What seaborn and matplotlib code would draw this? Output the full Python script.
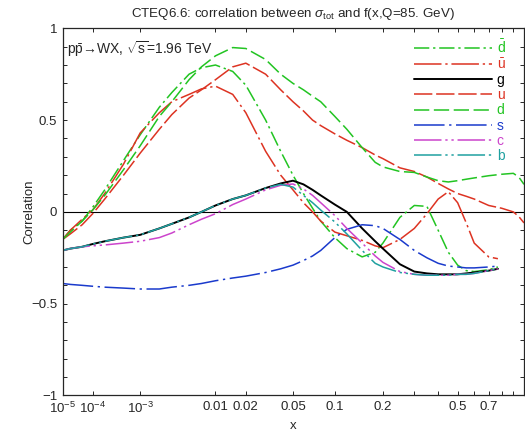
import numpy as np
import pandas as pd
import matplotlib
matplotlib.use("Agg")
import matplotlib.pyplot as plt
import seaborn as sns

x_main = [1e-5, 2e-5, 5e-5, 1e-4, 2e-4, 5e-4, 1e-3, 2e-3, 3e-3, 5e-3, 7e-3,
          0.01, 0.015, 0.02, 0.03, 0.04, 0.05, 0.06, 0.07, 0.08, 0.1, 0.12,
          0.15, 0.18, 0.2, 0.25, 0.3, 0.35, 0.4, 0.45, 0.5, 0.55, 0.6, 0.7, 0.77]
x_long = x_main[:-1] + [0.8, 0.9, 0.95, 1.0]

# correlation values per parton
dbar = [-0.15, -0.10, -0.05, 0.025, 0.12, 0.28, 0.42, 0.57, 0.65, 0.75, 0.785,
        0.80, 0.765, 0.69, 0.50, 0.33, 0.20, 0.10, 0.02, -0.05, -0.14, -0.20,
        -0.245, -0.22, -0.17, -0.03, 0.035, 0.03, -0.10, -0.22, -0.29, -0.32, -0.325, -0.315, -0.30]
ubar = [-0.15, -0.10, -0.04, 0.01, 0.10, 0.26, 0.43, 0.54, 0.60, 0.64, 0.67,
        0.685, 0.64, 0.54, 0.33, 0.20, 0.12, 0.05, 0.0, -0.05, -0.11, -0.13,
        -0.155, -0.185, -0.195, -0.15, -0.09, -0.01, 0.07, 0.11, 0.05, -0.06, -0.17, -0.245, -0.255]
g = [-0.21, -0.20, -0.19, -0.175, -0.16, -0.14, -0.125, -0.09, -0.065, -0.03, 0.0,
     0.035, 0.07, 0.09, 0.13, 0.155, 0.17, 0.15, 0.12, 0.09, 0.04, 0.0,
     -0.09, -0.16, -0.20, -0.285, -0.325, -0.335, -0.34, -0.34, -0.34, -0.335, -0.33, -0.32, -0.31]
u = [-0.15, -0.12, -0.07, -0.01, 0.07, 0.20, 0.32, 0.45, 0.53, 0.62, 0.665,
     0.72, 0.79, 0.81, 0.75, 0.665, 0.60, 0.55, 0.50, 0.47, 0.425, 0.39,
     0.35, 0.31, 0.29, 0.24, 0.22, 0.19, 0.155, 0.125, 0.10, 0.085, 0.07, 0.035,
     0.02, 0.0, -0.025, -0.06]
d = [-0.15, -0.11, -0.05, 0.01, 0.09, 0.23, 0.36, 0.52, 0.60, 0.72, 0.79,
     0.85, 0.895, 0.89, 0.83, 0.75, 0.70, 0.665, 0.63, 0.60, 0.52, 0.45,
     0.35, 0.27, 0.245, 0.22, 0.215, 0.19, 0.17, 0.163, 0.17, 0.178, 0.185, 0.197,
     0.205, 0.21, 0.19, 0.15]
s = [-0.39, -0.395, -0.40, -0.405, -0.41, -0.415, -0.42, -0.42, -0.41, -0.40, -0.39,
     -0.375, -0.36, -0.35, -0.33, -0.31, -0.29, -0.265, -0.24, -0.21, -0.14, -0.095,
     -0.07, -0.075, -0.09, -0.15, -0.21, -0.25, -0.28, -0.295, -0.30, -0.305, -0.305, -0.30, -0.295]
c = [-0.21, -0.20, -0.19, -0.185, -0.18, -0.17, -0.16, -0.14, -0.115, -0.07, -0.04,
     -0.01, 0.04, 0.07, 0.12, 0.145, 0.152, 0.125, 0.09, 0.05, -0.02, -0.09,
     -0.17, -0.24, -0.275, -0.325, -0.34, -0.345, -0.345, -0.345, -0.34, -0.34, -0.335, -0.32, -0.31]
b = [-0.21, -0.20, -0.19, -0.175, -0.16, -0.14, -0.125, -0.09, -0.065, -0.03, 0.0,
     0.035, 0.07, 0.09, 0.13, 0.15, 0.135, 0.09, 0.05, 0.01, -0.055, -0.12,
     -0.21, -0.28, -0.30, -0.33, -0.34, -0.345, -0.345, -0.345, -0.34, -0.34, -0.335, -0.32, -0.31]

labels = [r'$\bar{\mathrm{d}}$', r'$\bar{\mathrm{u}}$', 'g', 'u', 'd', 's', 'c', 'b']
series = [dbar, ubar, g, u, d, s, c, b]
xs = [x_main, x_main, x_main, x_long, x_long, x_main, x_main, x_main]
colors = ['#22c422', '#dd3322', 'black', '#dd3322', '#22c422', '#1a3acc', '#cc44cc', '#1fa0a0']
dashes = [(10, 2.5, 1.5, 2.5), (18, 2.5, 1.5, 2.5), None, (12, 2.5), (10, 3),
          (20, 3, 1.5, 3), (18, 2.5, 1.5, 2.5, 1.5, 2.5), (18, 2.5, 1.5, 2.5, 1.5, 2.5)]

xticks = [1e-5, 1e-4, 1e-3, 0.01, 0.02, 0.05, 0.1, 0.2, 0.5, 0.7]
xticklabels = [r'$10^{-5}$', r'$10^{-4}$', r'$10^{-3}$', '0.01', '0.02', '0.05', '0.1', '0.2', '0.5', '0.7']
xminor = [0.3, 0.4, 0.6, 0.8, 0.9]

sns.set_style("ticks", {"xtick.direction": "in", "ytick.direction": "in"})
plt.rcParams['font.family'] = ['Liberation Sans', 'DejaVu Sans']
plt.rcParams['mathtext.fontset'] = 'custom'
plt.rcParams['mathtext.rm'] = 'Liberation Sans'
plt.rcParams['mathtext.it'] = 'Liberation Sans:italic'
plt.rcParams['mathtext.bf'] = 'Liberation Sans:bold'

fig = plt.figure(figsize=(5.25, 4.32), dpi=100)
ax = fig.add_axes([0.1194, 0.0845, 0.8787, 0.85])

for xv, yv, col, dsh in zip(xs, series, colors, dashes):
    sns.lineplot(x=xv, y=yv, color=col, ax=ax, linewidth=1.4 if dsh is None else 1.1,
                 estimator=None, sort=False)
    if dsh is not None:
        ax.lines[-1].set_dashes(dsh)

handles = list(ax.lines[:8])
ax.axhline(0, color='black', linewidth=0.8, zorder=1)

ax.set_xscale('function', functions=(lambda v: np.power(np.clip(v, 1e-12, None), 0.2),
                                     lambda v: np.power(v, 5)))
ax.set_xlim(1e-5, 1.0)
ax.set_ylim(-1, 1)
ax.set_xticks(xticks)
ax.set_xticklabels(xticklabels)
ax.set_xticks(xminor, minor=True)
ax.set_yticks([-1, -0.5, 0, 0.5, 1])
ax.set_yticklabels(['\u22121', '\u22120.5', '0', '0.5', '1'])
ax.set_yticks(np.arange(-0.9, 1.0, 0.1), minor=True)
ax.tick_params(which='both', direction='in', top=True, right=True, length=3,
               width=0.7, labelsize=9.5, pad=4)
for sp in ax.spines.values():
    sp.set_linewidth(0.9)

ax.set_xlabel('x', fontsize=9.5, labelpad=3)
ax.set_ylabel('Correlation', fontsize=9.5, labelpad=-3)
ax.set_title(r'CTEQ6.6: correlation between $\sigma_{\mathrm{tot}}$ and f(x,Q=85. GeV)',
             fontsize=9.6, pad=8)
ax.text(0.009, 0.944, r'p$\bar{\mathrm{p}}$→WX, $\sqrt{\mathrm{s}}$=1.96 TeV',
        transform=ax.transAxes, fontsize=10, va='center', ha='left')

leg = ax.legend(handles, labels, loc='upper left', bbox_to_anchor=(0.762, 0.972),
                frameon=False, fontsize=10, handlelength=5.6, handletextpad=0.35,
                labelspacing=0.08, borderpad=0, borderaxespad=0)
for txt, col in zip(leg.get_texts(), colors):
    txt.set_color(col)

fig.savefig('out.png', dpi=100)
